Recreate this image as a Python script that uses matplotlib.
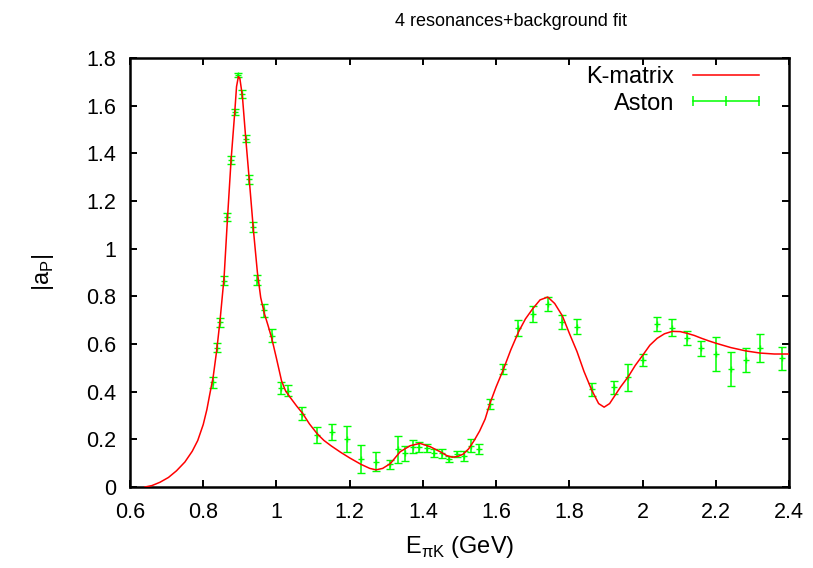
import numpy as np
import matplotlib
matplotlib.use('Agg')
import matplotlib.pyplot as plt
from matplotlib.lines import Line2D

plt.rcParams['font.family'] = ['Liberation Sans', 'DejaVu Sans']
plt.rcParams['mathtext.fontset'] = 'custom'
plt.rcParams['mathtext.rm'] = 'Liberation Sans'
plt.rcParams['font.size'] = 15.5

# Aston data points: energy (GeV), |a_P|, error
aston_e = [0.827, 0.837, 0.846, 0.857, 0.866, 0.876, 0.886, 0.896, 0.907, 0.916,
           0.926, 0.937, 0.946, 0.967, 0.987, 1.012, 1.032, 1.071, 1.112, 1.152,
           1.192, 1.231, 1.272, 1.311, 1.331, 1.351, 1.372, 1.390, 1.410, 1.431,
           1.452, 1.471, 1.493, 1.512, 1.532, 1.552, 1.582, 1.620, 1.661, 1.700,
           1.742, 1.781, 1.821, 1.861, 1.922, 1.961, 2.001, 2.040, 2.081, 2.121,
           2.161, 2.201, 2.241, 2.282, 2.321, 2.382]
aston_a = [0.439, 0.585, 0.691, 0.866, 1.132, 1.372, 1.572, 1.730, 1.649, 1.462,
           1.291, 1.090, 0.869, 0.741, 0.634, 0.417, 0.403, 0.308, 0.217, 0.231,
           0.201, 0.117, 0.106, 0.095, 0.158, 0.141, 0.169, 0.166, 0.162, 0.144,
           0.141, 0.119, 0.138, 0.130, 0.173, 0.159, 0.348, 0.494, 0.666, 0.726,
           0.768, 0.691, 0.673, 0.410, 0.418, 0.460, 0.533, 0.683, 0.669, 0.624,
           0.582, 0.558, 0.495, 0.533, 0.582, 0.540]
aston_err = [0.022, 0.019, 0.020, 0.019, 0.018, 0.015, 0.013, 0.008, 0.015, 0.016,
             0.020, 0.022, 0.022, 0.026, 0.027, 0.025, 0.023, 0.027, 0.034, 0.033,
             0.055, 0.060, 0.040, 0.018, 0.056, 0.030, 0.028, 0.021, 0.017, 0.017,
             0.020, 0.013, 0.013, 0.023, 0.028, 0.022, 0.021, 0.021, 0.034, 0.032,
             0.031, 0.029, 0.033, 0.027, 0.027, 0.056, 0.026, 0.030, 0.035, 0.030,
             0.031, 0.070, 0.073, 0.052, 0.059, 0.047]

# K-matrix fit curve
fit_e = [0.641, 0.660, 0.682, 0.705, 0.727, 0.750, 0.770, 0.785, 0.800, 0.810,
         0.818, 0.827, 0.837, 0.846, 0.857, 0.866, 0.876, 0.886, 0.891, 0.896,
         0.900, 0.907, 0.916, 0.926, 0.937, 0.948, 0.957, 0.967, 0.977, 0.987,
         1.000, 1.014, 1.025, 1.037, 1.055, 1.071, 1.090, 1.112, 1.130, 1.150,
         1.175, 1.200, 1.231, 1.255, 1.272, 1.290, 1.311, 1.338, 1.365, 1.392,
         1.420, 1.447, 1.465, 1.480, 1.495, 1.510, 1.525, 1.540, 1.555, 1.570,
         1.583, 1.600, 1.620, 1.640, 1.661, 1.680, 1.700, 1.720, 1.741, 1.760,
         1.781, 1.800, 1.821, 1.840, 1.861, 1.880, 1.895, 1.910, 1.922, 1.940,
         1.961, 1.980, 2.001, 2.020, 2.040, 2.060, 2.081, 2.103, 2.121, 2.141,
         2.161, 2.181, 2.201, 2.241, 2.282, 2.321, 2.360, 2.400]
fit_a = [0.000, 0.006, 0.020, 0.040, 0.068, 0.105, 0.150, 0.195, 0.262, 0.325,
         0.390, 0.460, 0.575, 0.700, 0.880, 1.120, 1.370, 1.570, 1.680, 1.722,
         1.715, 1.640, 1.465, 1.285, 1.080, 0.900, 0.795, 0.728, 0.678, 0.625,
         0.540, 0.445, 0.403, 0.377, 0.340, 0.310, 0.265, 0.222, 0.195, 0.172,
         0.146, 0.122, 0.095, 0.078, 0.072, 0.078, 0.098, 0.148, 0.173, 0.183,
         0.169, 0.148, 0.132, 0.125, 0.128, 0.138, 0.160, 0.195, 0.235, 0.285,
         0.350, 0.420, 0.494, 0.575, 0.650, 0.705, 0.748, 0.785, 0.797, 0.770,
         0.718, 0.645, 0.568, 0.485, 0.407, 0.350, 0.335, 0.350, 0.378, 0.420,
         0.463, 0.510, 0.554, 0.595, 0.624, 0.643, 0.653, 0.652, 0.645, 0.636,
         0.624, 0.613, 0.603, 0.585, 0.571, 0.562, 0.558, 0.558]

xticks = [0.6, 0.8, 1.0, 1.2, 1.4, 1.6, 1.8, 2.0, 2.2, 2.4]
xtick_labels = ['0.6', '0.8', '1', '1.2', '1.4', '1.6', '1.8', '2', '2.2', '2.4']
yticks = [0, 0.2, 0.4, 0.6, 0.8, 1.0, 1.2, 1.4, 1.6, 1.8]
ytick_labels = ['0', '0.2', '0.4', '0.6', '0.8', '1', '1.2', '1.4', '1.6', '1.8']

fig = plt.figure(figsize=(8.13, 5.68), dpi=100)
ax = fig.add_axes([130/813, 1-487/568, (789-130)/813, (487-58)/568])

ax.plot(fit_e, fit_a, color='#ff0000', lw=1.1, zorder=3)
ax.errorbar(aston_e, aston_a, yerr=aston_err, fmt='+', color='#00ff00',
            ms=5, mew=1, elinewidth=1.1, capsize=3, capthick=1.1, zorder=2)

ax.set_xlim(0.6, 2.4)
ax.set_ylim(0, 1.8)
ax.set_xticks(xticks)
ax.set_xticklabels(xtick_labels)
ax.set_yticks(yticks)
ax.set_yticklabels(ytick_labels)
ax.tick_params(direction='in', length=5, width=1.4, top=True, right=True)
ax.tick_params(axis='x', pad=11)
ax.tick_params(axis='y', pad=10)
for s in ax.spines.values():
    s.set_linewidth(1.8)

ax.set_xlabel(r'E$_{\mathregular{πK}}$ (GeV)', fontsize=17, va='center')
ax.xaxis.set_label_coords(0.5, (487-547)/429)
ax.set_ylabel(r'|a$_{\mathregular{P}}$|', fontsize=17, va='center')
ax.yaxis.set_label_coords((43-130)/659, (487-272)/429)
fig.text(511/813, 1-22/568, '4 resonances+background fit', ha='center', va='center', fontsize=13)

h1 = Line2D([], [], color='#ff0000', lw=1.1)
h2 = Line2D([], [], color='#00ff00', lw=1.1, marker='|', ms=7, mew=1.1)
ax.legend([h1, h2], ['K-matrix', 'Aston'], loc='upper right', frameon=False,
          markerfirst=False, handlelength=3.4, numpoints=3, labelspacing=0.2,
          handletextpad=0.5, fontsize=17, borderpad=0, borderaxespad=0,
          bbox_to_anchor=(766/813, 1-66/568), bbox_transform=fig.transFigure)

fig.savefig('out.png', dpi=100)
